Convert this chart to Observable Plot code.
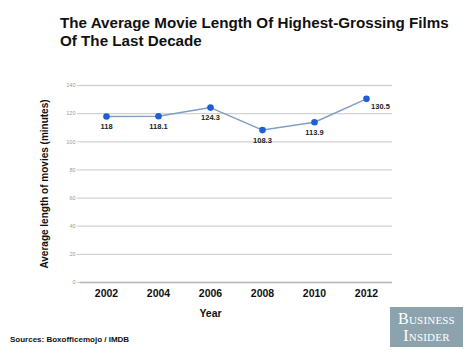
<!DOCTYPE html>
<html><head><meta charset="utf-8">
<script src="https://cdn.jsdelivr.net/npm/d3@7"></script>
<script src="https://cdn.jsdelivr.net/npm/@observablehq/plot@0.6"></script>
<style>
body{margin:0;background:#fff;font-family:"Liberation Sans",Arial,sans-serif;}
#wrap{position:relative;width:474px;height:355px;overflow:hidden;background:#fff}
#title{position:absolute;left:60px;top:14px;font-weight:bold;font-size:15.2px;line-height:18px;color:#111;margin:0}
#chart{position:absolute;left:0;top:58px}
#src{position:absolute;left:10px;top:335px;font-weight:bold;font-size:8px;color:#111}
#logo{position:absolute;left:390px;top:307px;width:73px;height:40px;background:#8ca3ae;color:#fff;font-family:"Liberation Serif","DejaVu Serif",serif;font-variant:small-caps;font-size:16px;line-height:17px;text-align:center;padding-top:3px;box-sizing:border-box;letter-spacing:0.2px}
</style></head>
<body>
<div id="wrap">
<div id="title">The Average Movie Length Of Highest-Grossing Films<br>Of The Last Decade</div>
<div id="chart"></div>
<div id="src">Sources: Boxofficemojo / IMDB</div>
<div id="logo">Business<br>Insider</div>
</div>
<script>
const years = ["2002","2004","2006","2008","2010","2012"];
const lengths = [118, 118.1, 124.3, 108.3, 113.9, 130.5];
const valueLabels = ["118","118.1","124.3","108.3","113.9","130.5"];
const yTicks = [0,20,40,60,80,100,120,140];
const yLabel = "Average length of movies (minutes)";
const xLabel = "Year";

const data = years.map((y,i)=>({year:y, len:lengths[i], label:valueLabels[i]}));

const chart = Plot.plot({
  width:474, height:270,
  marginLeft:80, marginRight:82, marginTop:27, marginBottom:46,
  x:{type:"point", domain:years, padding:0.5},
  y:{domain:[0,140]},
  style:{fontFamily:"Liberation Sans, Arial, sans-serif", background:"transparent", overflow:"visible"},
  marks:[
    Plot.gridY(yTicks,{stroke:"#d2d2d2", strokeOpacity:1, strokeWidth:1.3}),
    Plot.axisY(yTicks,{tickSize:3, tickPadding:2, fontSize:5.5, fill:"#999", stroke:"#ccc", label:null}),
    Plot.axisX({tickSize:0, tickPadding:7, fontSize:10.5, fontWeight:"bold", fill:"#111", label:null}),
    Plot.ruleY([0],{stroke:"#bbb", strokeWidth:1.3}),
    Plot.text([yLabel],{text:d=>d, frameAnchor:"left", textAnchor:"middle", rotate:-90, dx:-36, fontWeight:"bold", fontSize:10, fill:"#111"}),
    Plot.text([xLabel],{text:d=>d, frameAnchor:"bottom", dx:-26, dy:34, fontWeight:"bold", fontSize:10.5, fill:"#111"}),
    Plot.line(data,{x:"year", y:"len", stroke:"#7f9fc6", strokeWidth:1.5}),
    Plot.dot(data,{x:"year", y:"len", r:3.3, fill:"#1d5fd6", stroke:"none"}),
    Plot.text(data.slice(0,5),{x:"year", y:"len", text:"label", dy:10, fontSize:7.5, fontWeight:"bold", fill:"#222"}),
    Plot.text(data.slice(5),{x:"year", y:"len", text:"label", dx:14, dy:8, fontSize:7.5, fontWeight:"bold", fill:"#222"})
  ]
});
document.getElementById("chart").appendChild(chart);
</script>
</body></html>
